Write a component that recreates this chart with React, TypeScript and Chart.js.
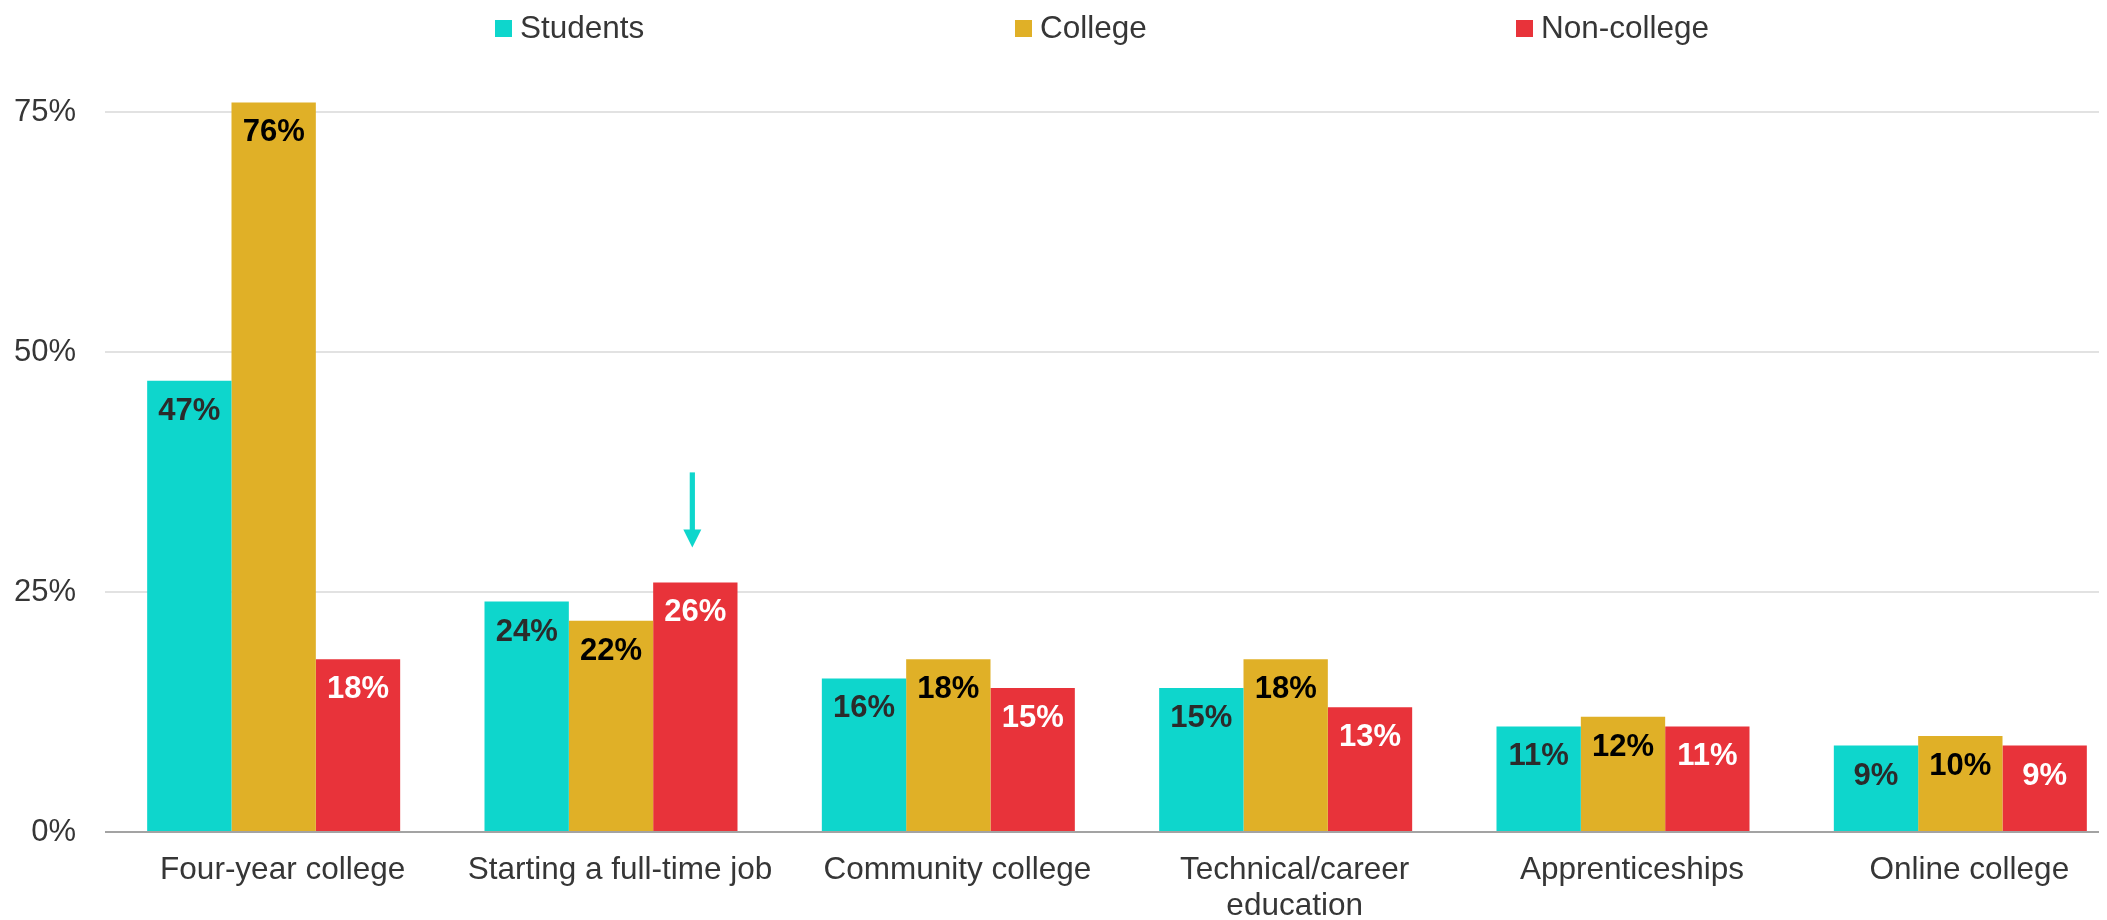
import React, { useEffect, useRef } from "react";
import { Chart, registerables } from "chart.js";

Chart.register(...registerables);

const CATEGORIES: (string | string[])[] = [
  "Four-year college",
  "Starting a full-time job",
  "Community college",
  ["Technical/career", "education"],
  "Apprenticeships",
  "Online college",
];
const SERIES_NAMES = ["Students", "College", "Non-college"];
const STUDENTS = [47, 24, 16, 15, 11, 9];
const COLLEGE = [76, 22, 18, 18, 12, 10];
const NON_COLLEGE = [18, 26, 15, 13, 11, 9];
const Y_TICKS = [0, 25, 50, 75];

const COLORS = ["#0ed6cc", "#e0b027", "#e8333a"];
const LABEL_COLORS = ["#2b2b2b", "#000000", "#ffffff"];
const FONT = "'Liberation Sans', Arial, Helvetica, sans-serif";
const TEXT = "#363636";

// legend layout (canvas px)
const LEGEND_X = [487, 1007, 1508];
const LEGEND_Y = 12;
const LEGEND_BOX = 17;

const legendPlugin = {
  id: "customLegend",
  afterDraw(chart: any) {
    const ctx = chart.ctx;
    ctx.save();
    chart.data.datasets.forEach((ds: any, i: number) => {
      const x = LEGEND_X[i];
      ctx.fillStyle = ds.backgroundColor;
      ctx.fillRect(x, LEGEND_Y, LEGEND_BOX, LEGEND_BOX);
      ctx.fillStyle = TEXT;
      ctx.font = `31.5px ${FONT}`;
      ctx.textAlign = "left";
      ctx.textBaseline = "middle";
      ctx.fillText(ds.label, x + LEGEND_BOX + 8, LEGEND_Y + LEGEND_BOX / 2 + 0.5);
    });
    ctx.restore();
  },
};

const dataLabelPlugin = {
  id: "dataLabels",
  afterDatasetsDraw(chart: any) {
    const ctx = chart.ctx;
    ctx.save();
    ctx.font = `bold 31px ${FONT}`;
    ctx.textAlign = "center";
    ctx.textBaseline = "middle";
    chart.data.datasets.forEach((ds: any, i: number) => {
      const meta = chart.getDatasetMeta(i);
      ctx.fillStyle = LABEL_COLORS[i];
      meta.data.forEach((el: any, j: number) => {
        ctx.fillText(`${ds.data[j]}%`, el.x, el.y + 30.5);
      });
    });
    ctx.restore();
  },
};

const arrowPlugin = {
  id: "arrow",
  afterDatasetsDraw(chart: any) {
    const el = chart.getDatasetMeta(2).data[1];
    if (!el) return;
    const ctx = chart.ctx;
    const x = el.x - 3;
    const tip = el.y - 35;
    ctx.save();
    ctx.fillStyle = COLORS[0];
    ctx.fillRect(x - 2.6, tip - 75, 5.2, 58);
    ctx.beginPath();
    ctx.moveTo(x - 9, tip - 18);
    ctx.lineTo(x + 9, tip - 18);
    ctx.lineTo(x, tip);
    ctx.closePath();
    ctx.fill();
    ctx.restore();
  },
};

export default function App() {
  const ref = useRef<HTMLCanvasElement>(null);

  useEffect(() => {
    if (!ref.current) return;
    const chart = new Chart(ref.current, {
      type: "bar",
      data: {
        labels: CATEGORIES,
        datasets: [STUDENTS, COLLEGE, NON_COLLEGE].map((d, i) => ({
          label: SERIES_NAMES[i],
          data: d,
          backgroundColor: COLORS[i],
          borderWidth: 0,
          categoryPercentage: 0.75,
          barPercentage: 1.0,
        })),
      },
      options: {
        responsive: false,
        animation: false,
        devicePixelRatio: 1,
        layout: { padding: { top: 56, left: 0, right: 0, bottom: 0 } },
        plugins: {
          legend: { display: false },
          tooltip: { enabled: false },
        },
        scales: {
          x: {
            offset: true,
            grid: { display: false, drawTicks: false },
            border: { display: false },
            ticks: {
              color: TEXT,
              font: { family: FONT, size: 31.5, lineHeight: 1.12 },
              padding: 21,
              labelOffset: 9,
              maxRotation: 0,
              autoSkip: false,
            },
            afterFit(scale: any) {
              scale.height = 88;
            },
          },
          y: {
            min: 0,
            max: 80,
            border: { display: false },
            grid: {
              drawTicks: false,
              lineWidth: 2,
              color: (c: any) => (c.tick && c.tick.value === 0 ? "#a3a3a3" : "#e2e2e2"),
            },
            ticks: {
              color: TEXT,
              font: { family: FONT, size: 31 },
              padding: 29,
              callback: (v: any) => `${v}%`,
            },
            afterBuildTicks(scale: any) {
              scale.ticks = Y_TICKS.map((v) => ({ value: v }));
            },
            afterFit(scale: any) {
              scale.width = 97;
            },
          },
        },
      },
      plugins: [legendPlugin, dataLabelPlugin, arrowPlugin],
    });
    return () => chart.destroy();
  }, []);

  return (
    <div style={{ width: 2099, height: 912, overflow: "hidden", background: "#fff" }}>
      <canvas ref={ref} width={2121} height={912} style={{ display: "block" }} />
    </div>
  );
}
